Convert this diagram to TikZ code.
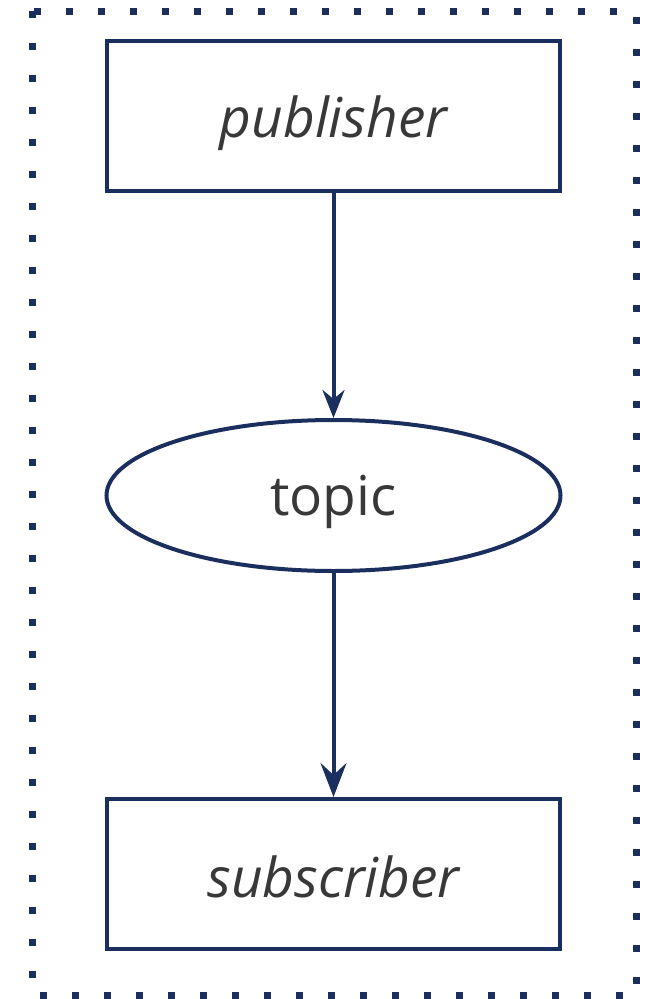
\documentclass[tikz,border=0pt]{standalone}
\usepackage{fontspec}
\setmainfont{Open Sans}
\usetikzlibrary{shapes.geometric,arrows.meta}
\definecolor{navy}{HTML}{1B2F5E}
\definecolor{ink}{HTML}{383838}
\tikzset{
  box/.style={draw=navy, line width=4pt, minimum width=453pt, minimum height=150pt, inner sep=0pt, text depth=0pt, font=\fontsize{55}{66}\selectfont\itshape, text=ink},
  oval/.style={ellipse, draw=navy, line width=4pt, minimum width=454pt, minimum height=151pt, inner sep=0pt, text depth=0pt, font=\fontsize{55}{66}\selectfont, text=ink},
  link/.style={draw=navy, line width=4pt},
}
\begin{document}
\begin{tikzpicture}[x=1pt, y=-1pt]
\useasboundingbox (0,0) rectangle (646,999);
% dotted frame
\draw[navy, line width=7pt, dash pattern=on 7pt off 25pt, line cap=butt] (32,11) rectangle (636,995.5);
\node[box, text height=42pt] (pub) at (333.5,116) {publisher};
\node[oval, text height=39pt] (topic) at (333.5,495.5) {topic};
\node[box, text height=46pt] (sub) at (333.5,874) {subscriber};
\draw[link, -{Stealth[length=28pt,width=22pt,inset=9pt]}] (pub) -- (topic);
\draw[link, -{Stealth[length=34pt,width=26pt,inset=12pt]}] (topic) -- (sub);
\end{tikzpicture}
\end{document}
